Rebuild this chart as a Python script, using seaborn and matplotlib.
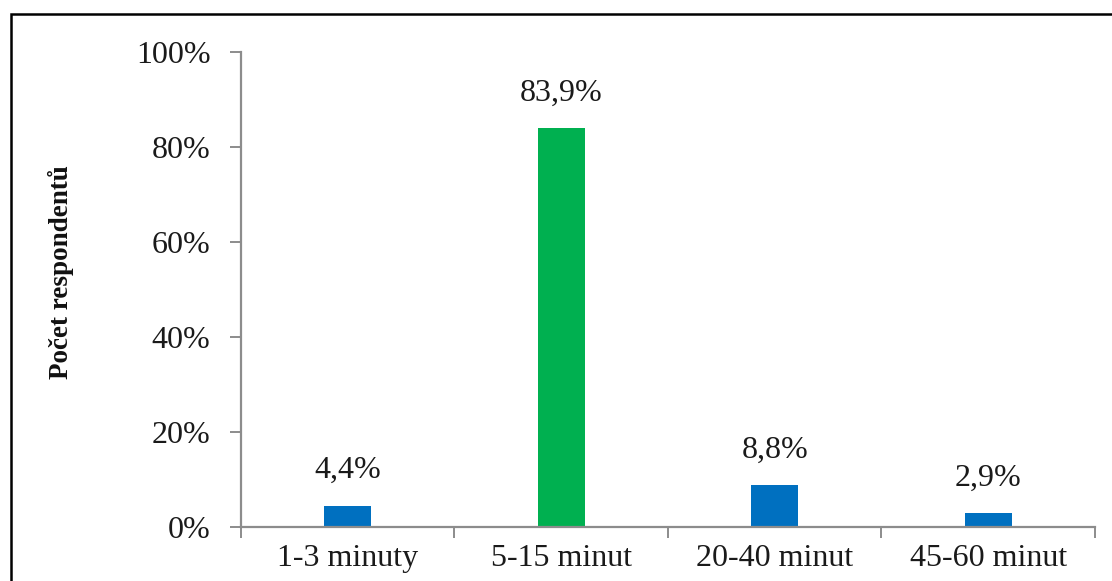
import matplotlib
matplotlib.use("Agg")
import matplotlib.pyplot as plt
import matplotlib.patches as mpatches
from matplotlib.ticker import FixedLocator, PercentFormatter
import seaborn as sns
import pandas as pd

categories = ["1-3 minuty", "5-15 minut", "20-40 minut", "45-60 minut"]
values = [4.4, 83.9, 8.8, 2.9]
value_labels = ["4,4%", "83,9%", "8,8%", "2,9%"]
bar_colors = ["#0070C0", "#00B050", "#0070C0", "#0070C0"]
y_ticks = [0, 20, 40, 60, 80, 100]
y_label = "Počet respondentů"

sns.set_theme(style="white")
plt.rcParams["font.family"] = ["Liberation Serif", "DejaVu Serif"]

df = pd.DataFrame({"kategorie": categories, "podil": values})

fig = plt.figure(figsize=(11.12, 5.81), dpi=100)
ax = fig.add_axes([0.2167, 0.0929, 0.768, 0.8176])

sns.barplot(data=df, x="kategorie", y="podil", hue="kategorie",
            palette=bar_colors, width=0.22, legend=False, ax=ax,
            saturation=1, edgecolor="none")

ax.set_xlim(-0.5, 3.5)
ax.set_ylim(0, 100)
ax.set_yticks(y_ticks)
ax.yaxis.set_major_formatter(PercentFormatter(decimals=0))

# value labels above each bar
for i, (v, lab) in enumerate(zip(values, value_labels)):
    ax.annotate(lab, (i, v), xytext=(0, 15), textcoords="offset points",
                ha="center", va="bottom", fontsize=23, color="#1a1a1a")

grey = "#8c8c8c"
for side in ["top", "right"]:
    ax.spines[side].set_visible(False)
for side in ["left", "bottom"]:
    ax.spines[side].set_color(grey)
    ax.spines[side].set_linewidth(1.6)

ax.tick_params(axis="y", which="major", direction="out", length=8, width=1.4,
               color=grey, left=True, pad=14, labelsize=23, labelcolor="#1a1a1a")
ax.tick_params(axis="x", which="major", length=0, pad=12, labelsize=23,
               labelcolor="#1a1a1a")
ax.xaxis.set_minor_locator(FixedLocator([-0.5, 0.5, 1.5, 2.5, 3.5]))
ax.tick_params(axis="x", which="minor", direction="out", length=8, width=1.4,
               color=grey, bottom=True)

ax.set_xlabel("")
ax.set_ylabel(y_label, fontsize=19.5, fontweight="bold", color="#111111")
ax.yaxis.set_label_coords(-0.195, 0.537)
ax.grid(False)

# outer chart frame
frame = mpatches.Rectangle((11 / 1112, -0.2), 1.2, 1.2 - 14 / 581,
                           transform=fig.transFigure, fill=False,
                           edgecolor="black", linewidth=1.8, clip_on=False)
fig.patches.append(frame)

fig.savefig("out.png", dpi=100, facecolor="white")
